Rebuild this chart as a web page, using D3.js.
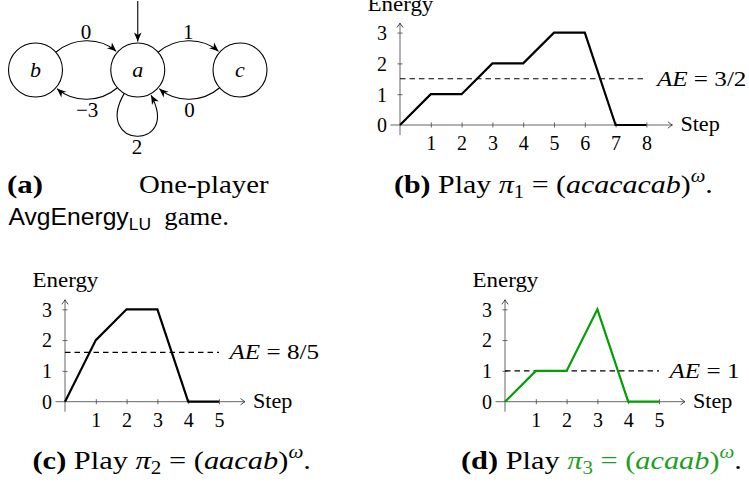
<!DOCTYPE html>
<html>
<head>
<meta charset="utf-8">
<script src="https://cdn.jsdelivr.net/npm/d3@7"></script>
<style>
  body { margin: 0; background: #fff; }
  svg text { font-family: "Liberation Serif", "Times New Roman", serif; fill: #000; white-space: pre; }
  .sans { font-family: "Liberation Sans", Arial, sans-serif; }
</style>
</head>
<body>
<svg id="fig" width="749" height="482"></svg>
<script>
// ---- game graph ----
const states = ["b", "a", "c"];
const initialState = "a";
const edgeFrom = ["b", "a", "a", "c", "a"];
const edgeTo = ["a", "c", "b", "a", "a"];
const edgeWeight = ["0", "1", "−3", "0", "2"];

// ---- energy levels along each play (step 0 .. n) ----
const energyPi1 = [0, 1, 1, 2, 2, 3, 3, 0, 0];
const energyPi2 = [0, 2, 3, 3, 0, 0];
const energyPi3 = [0, 1, 1, 3, 0, 0];
const avgEnergy = [1.5, 1.6, 1];
const avgEnergyLabels = ["3/2", "8/5", "1"];
const energyTicks = [0, 1, 2, 3];

const svg = d3.select("#fig");
const GREEN = "#00a000";
const GREEN_TEXT = "#1ea01e";
const UNIT = 30.8;

// stretch a text horizontally by factor s, keeping x0 fixed
function stretchX(sel, s, x0) {
  sel.attr("transform", `translate(${x0},0) scale(${s},1) translate(${-x0},0)`);
}
// stretch a text so that its box spans [x0, x1]
function fitBetween(sel, x0, x1) {
  const b = sel.node().getBBox();
  const s = (x1 - x0) / b.width;
  sel.attr("transform", `translate(${x0},0) scale(${s},1) translate(${-b.x},0)`);
}

// ---------------- graph ----------------
const R = 27;
const statePos = d3.scalePoint().domain(states).range([35.5, 240]);
const stateY = 70;

const defs = svg.append("defs");
defs.append("marker")
  .attr("id", "stealth").attr("markerUnits", "userSpaceOnUse")
  .attr("viewBox", "-10 -5 12 10").attr("refX", 0).attr("refY", 0)
  .attr("markerWidth", 12).attr("markerHeight", 10).attr("orient", "auto")
  .append("path").attr("d", "M0,0 L-9,-3.8 L-6.5,0 L-9,3.8 Z").attr("fill", "#000");

const graph = svg.append("g");

function onCircle(s, deg, rr) {
  const a = deg * Math.PI / 180;
  return [statePos(s) + rr * Math.cos(a), stateY + rr * Math.sin(a)];
}

function cubic(p0, a0, p3, a3, d) {
  const r0 = a0 * Math.PI / 180, r3 = a3 * Math.PI / 180;
  const p1 = [p0[0] + d * Math.cos(r0), p0[1] + d * Math.sin(r0)];
  const p2 = [p3[0] + d * Math.cos(r3), p3[1] + d * Math.sin(r3)];
  const path = d3.path();
  path.moveTo(p0[0], p0[1]);
  path.bezierCurveTo(p1[0], p1[1], p2[0], p2[1], p3[0], p3[1]);
  const mid = [0.125 * p0[0] + 0.375 * p1[0] + 0.375 * p2[0] + 0.125 * p3[0],
               0.125 * p0[1] + 0.375 * p1[1] + 0.375 * p2[1] + 0.125 * p3[1]];
  return { d: path.toString(), mid };
}

const BEND = 41;
edgeFrom.forEach((from, i) => {
  const to = edgeTo[i];
  let e, labelY;
  if (from === to) {
    const p0 = onCircle(from, 120, R);
    const p3 = onCircle(to, 62, R + 1.5);
    e = cubic(p0, 120, p3, 62, 64);
    labelY = e.mid[1] + 18;
  } else if (statePos(from) < statePos(to)) {
    // left to right: bends over the top
    const p0 = onCircle(from, -BEND, R);
    const p3 = onCircle(to, 180 + BEND, R + 1.5);
    const chord = Math.abs(p3[0] - p0[0]);
    e = cubic(p0, -BEND, p3, 180 + BEND, 0.37 * chord);
    labelY = e.mid[1] - 2;
  } else {
    // right to left: bends under the bottom
    const p0 = onCircle(from, 180 - BEND, R);
    const p3 = onCircle(to, BEND, R + 1.5);
    const chord = Math.abs(p3[0] - p0[0]);
    e = cubic(p0, 180 - BEND, p3, BEND, 0.37 * chord);
    labelY = e.mid[1] + 18;
  }
  graph.append("path").attr("d", e.d).attr("fill", "none")
    .attr("stroke", "#000").attr("stroke-width", 1.1).attr("marker-end", "url(#stealth)");
  graph.append("text").attr("x", e.mid[0]).attr("y", labelY)
    .attr("text-anchor", "middle").attr("font-size", 21).text(edgeWeight[i]);
});

// initial arrow
graph.append("path")
  .attr("d", d3.line()([[statePos(initialState), 1], [statePos(initialState), stateY - R - 1.5]]))
  .attr("stroke", "#000").attr("stroke-width", 1.1).attr("marker-end", "url(#stealth)");

graph.selectAll("circle.state").data(states).join("circle")
  .attr("cx", d => statePos(d)).attr("cy", stateY).attr("r", R)
  .attr("fill", "none").attr("stroke", "#000").attr("stroke-width", 1.1);
graph.selectAll("text.state").data(states).join("text")
  .attr("x", d => statePos(d)).attr("y", stateY + 6.5)
  .attr("text-anchor", "middle").attr("font-size", 22).attr("font-style", "italic")
  .text(d => d);

// ---------------- energy plots ----------------
function arrowHead(g, x, y, dir) {
  // small open arrow tip, dir: "right" or "up"
  const p = dir === "right"
    ? `M${x - 4.5},${y - 3.2} Q${x - 1.5},${y - 0.8} ${x},${y} Q${x - 1.5},${y + 0.8} ${x - 4.5},${y + 3.2}`
    : `M${x - 3.2},${y + 4.5} Q${x - 0.8},${y + 1.5} ${x},${y} Q${x + 0.8},${y + 1.5} ${x + 3.2},${y + 4.5}`;
  g.append("path").attr("d", p).attr("fill", "none").attr("stroke", "#333").attr("stroke-width", 0.9);
}

function energyPlot(ox, oy, energy, ae, aeLabel, color) {
  const n = energy.length - 1;
  const x = d3.scaleLinear().domain([0, n]).range([ox, ox + n * UNIT]);
  const y = d3.scaleLinear().domain([0, 3]).range([oy, oy - 3 * UNIT]);
  const g = svg.append("g");

  const xa = g.append("g").attr("transform", `translate(0,${oy})`)
    .call(d3.axisBottom(x).tickValues(d3.range(1, n + 1)).tickFormat(d3.format("d"))
      .tickSize(2.5).tickSizeOuter(0));
  const ya = g.append("g").attr("transform", `translate(${ox},0)`)
    .call(d3.axisLeft(y).tickValues(energyTicks).tickFormat(d3.format("d"))
      .tickSize(2.5).tickSizeOuter(0));
  [xa, ya].forEach(a => {
    a.attr("font-family", null).attr("font-size", null);
    a.select(".domain").remove();
    a.selectAll(".tick line").attr("stroke", "#555").attr("stroke-width", 0.9);
  });
  xa.selectAll(".tick line").attr("y1", -2.5);
  ya.selectAll(".tick line").attr("x1", 2.5);
  ya.selectAll(".tick").filter(d => d === 0).select("line").remove();
  xa.selectAll(".tick text").attr("y", 25).attr("dy", null).attr("font-size", 20).attr("fill", "#222");
  ya.selectAll(".tick text").attr("x", -13).attr("dy", "0.34em").attr("font-size", 20).attr("fill", "#222");

  // axis lines with arrow tips
  const xEnd = x(n) + 26, yEnd = y(3) - 9.5;
  g.append("line").attr("x1", ox - 9.5).attr("x2", xEnd).attr("y1", oy).attr("y2", oy)
    .attr("stroke", "#555").attr("stroke-width", 0.9);
  g.append("line").attr("x1", ox).attr("x2", ox).attr("y1", oy + 10).attr("y2", yEnd)
    .attr("stroke", "#555").attr("stroke-width", 0.9);
  arrowHead(g, xEnd, oy, "right");
  arrowHead(g, ox, yEnd, "up");

  const st = g.append("text").attr("x", xEnd + 8).attr("y", oy + 6.5).attr("font-size", 20.5).text("Step");
  stretchX(st, 1.08, xEnd + 8);
  const en = g.append("text").attr("x", ox - 32.5).attr("y", y(3) - 22).attr("font-size", 20.5).text("Energy");
  stretchX(en, 1.12, ox - 32.5);

  // average energy
  g.append("line").attr("x1", x(0)).attr("x2", x(n)).attr("y1", y(ae)).attr("y2", y(ae))
    .attr("stroke", "#000").attr("stroke-width", 1.1).attr("stroke-dasharray", "5.5,4");
  const t = g.append("text").attr("x", x(n) + 10.5).attr("y", y(ae) + 7).attr("font-size", 21.5);
  t.append("tspan").attr("font-style", "italic").text("AE");
  t.append("tspan").text(" = " + aeLabel);
  stretchX(t, 1.17, x(n) + 10.5);

  g.append("path").datum(energy)
    .attr("d", d3.line().x((d, i) => x(i)).y(d => y(d)))
    .attr("fill", "none").attr("stroke", color).attr("stroke-width", 2.2)
    .attr("stroke-linejoin", "miter");
}

energyPlot(400, 125, energyPi1, avgEnergy[0], avgEnergyLabels[0], "#000");
energyPlot(65, 401.7, energyPi2, avgEnergy[1], avgEnergyLabels[1], "#000");
energyPlot(505, 401.7, energyPi3, avgEnergy[2], avgEnergyLabels[2], GREEN);

// ---------------- captions ----------------
const CAP = 26;
function playCaption(x0, x1, by, tag, idx, word, color) {
  const t = svg.append("text").attr("x", x0).attr("y", by).attr("font-size", CAP);
  t.append("tspan").attr("font-weight", "bold").text(`(${tag})`);
  t.append("tspan").text(" Play ");
  const c = color || "#000";
  t.append("tspan").attr("font-style", "italic").attr("fill", c).text("π");
  t.append("tspan").attr("font-size", 18).attr("dy", 5).attr("fill", c).text(idx);
  t.append("tspan").attr("dy", -5).attr("fill", c).text(" = (");
  t.append("tspan").attr("font-style", "italic").attr("fill", c).text(word);
  t.append("tspan").attr("fill", c).text(")");
  t.append("tspan").attr("font-style", "italic").attr("font-size", 18).attr("dy", -11).attr("fill", c).text("ω");
  t.append("tspan").attr("dy", 11).text(".");
  fitBetween(t, x0, x1);
}

// (a)
const capA1 = svg.append("text").attr("x", 7).attr("y", 193.5).attr("font-size", CAP)
  .attr("font-weight", "bold").text("(a)");
fitBetween(capA1, 7, 43);
const capA2 = svg.append("text").attr("x", 139).attr("y", 193.5).attr("font-size", CAP).text("One-player");
fitBetween(capA2, 139, 269);
const capA3 = svg.append("text").attr("x", 8.5).attr("y", 225.5).attr("font-size", CAP);
capA3.append("tspan").attr("class", "sans").attr("font-size", 24).text("AvgEnergy");
capA3.append("tspan").attr("class", "sans").attr("font-size", 17).attr("dy", 5).text("LU");
capA3.append("tspan").attr("dy", -5).text("  game.");
fitBetween(capA3, 8.5, 229);

playCaption(394, 713, 193.5, "b", "1", "acacacab");
playCaption(32.5, 311, 469, "c", "2", "aacab");
playCaption(461, 742, 469, "d", "3", "acaab", GREEN_TEXT);
</script>
</body>
</html>
